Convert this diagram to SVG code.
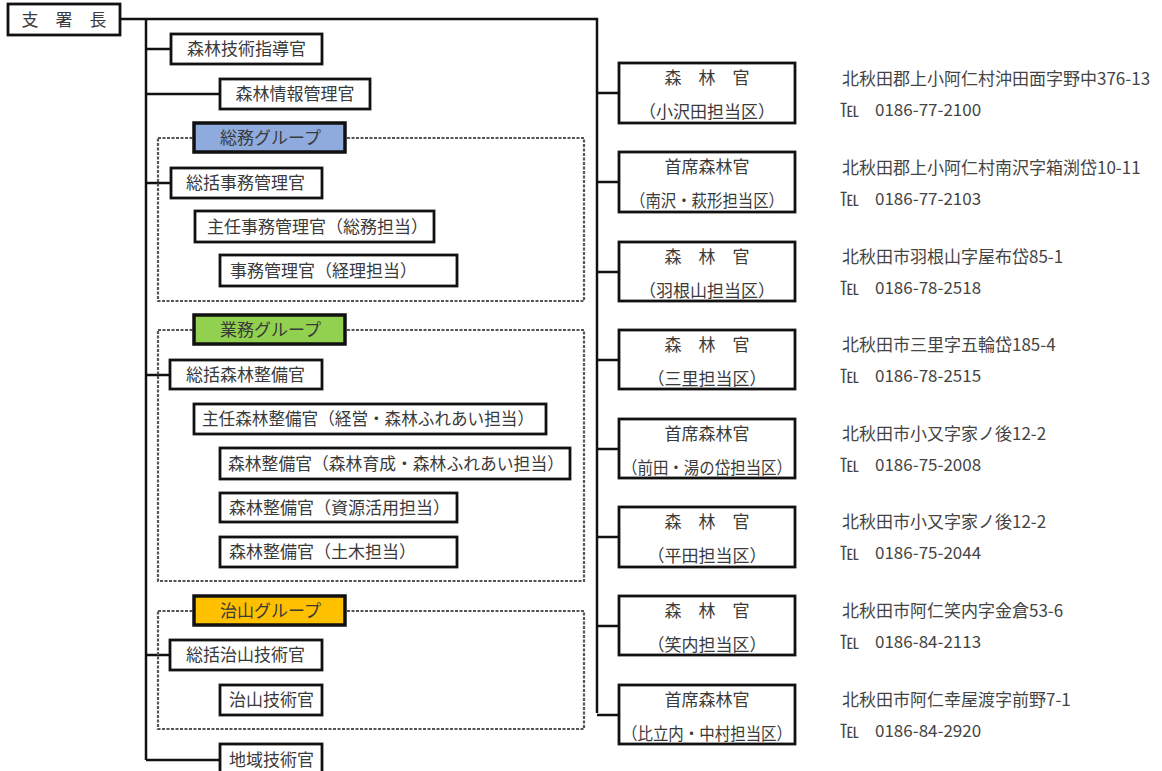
<svg xmlns="http://www.w3.org/2000/svg" width="1162" height="771" viewBox="0 0 1162 771">
<style>
text{font-family:"Noto Sans CJK JP","Noto Sans",sans-serif;fill:#3a3a3a;font-size:17px}
.box{fill:#fff;stroke:#111;stroke-width:2.8}
.grp{fill:none;stroke:#555;stroke-width:2.2;stroke-dasharray:3 1.5}
.lbl{stroke:#111;stroke-width:3.5}
.c{text-anchor:middle}
.ad{font-size:17px;fill:#444}
.tel{font-size:19px;fill:#444}
.con{fill:none;stroke:#111;stroke-width:2.5}
</style>
<rect width="1162" height="771" fill="#fff"/>
<g id="connectors">
<path class="con" d="M120,19 H597 V713"/>
<path class="con" d="M146,19 V760"/>
<path class="con" d="M146,49 H171 M146,94 H220 M146,183 H171 M146,375 H170 M146,655 H170 M146,760 H220"/>
<path class="con" d="M597,93 H619 M597,182 H619 M597,272 H619 M597,360 H619 M597,449 H619 M597,537 H619 M597,626 H619 M597,715 H619"/>
</g>
<g id="n-shishocho"><rect class="box" x="8" y="4" width="112" height="31"/><text class="c" x="64" y="26">支　署　長</text></g>
<g id="n-gijutsu"><rect class="box" x="171" y="34" width="151" height="30"/><text class="c" x="246.5" y="55">森林技術指導官</text></g>
<g id="n-joho"><rect class="box" x="220" y="79" width="150" height="30"/><text class="c" x="295" y="100">森林情報管理官</text></g>

<g id="g-somu">
<rect class="grp" x="158" y="138" width="426" height="163"/>
<rect class="lbl" x="194" y="123" width="151" height="29" fill="#8FAADC"/>
<text x="220" y="143.5">総務グループ</text>
</g>
<g id="n-somu1"><rect class="box" x="171" y="168" width="151" height="30"/><text x="186" y="189">総括事務管理官</text></g>
<g id="n-somu2"><rect class="box" x="195" y="211" width="239" height="31"/><text x="207" y="232.5">主任事務管理官（総務担当）</text></g>
<g id="n-somu3"><rect class="box" x="220" y="255" width="237" height="31"/><text x="230" y="276.5">事務管理官（経理担当）</text></g>

<g id="g-gyomu">
<rect class="grp" x="158" y="330" width="426" height="251"/>
<rect class="lbl" x="194" y="315" width="151" height="29" fill="#92D050"/>
<text x="220" y="335.5">業務グループ</text>
</g>
<g id="n-gyomu1"><rect class="box" x="170" y="360" width="152" height="29"/><text x="186" y="380.5">総括森林整備官</text></g>
<g id="n-gyomu2"><rect class="box" x="194" y="404" width="352" height="30"/><text x="202" y="425" textLength="332" lengthAdjust="spacingAndGlyphs">主任森林整備官（経営・森林ふれあい担当）</text></g>
<g id="n-gyomu3"><rect class="box" x="220" y="448" width="350" height="31"/><text x="228" y="469.5" textLength="336" lengthAdjust="spacingAndGlyphs">森林整備官（森林育成・森林ふれあい担当）</text></g>
<g id="n-gyomu4"><rect class="box" x="220" y="493" width="237" height="29"/><text x="229" y="513.5">森林整備官（資源活用担当）</text></g>
<g id="n-gyomu5"><rect class="box" x="220" y="537" width="237" height="30"/><text x="229" y="558">森林整備官（土木担当）</text></g>

<g id="g-chisan">
<rect class="grp" x="158" y="611" width="426" height="118"/>
<rect class="lbl" x="194" y="596" width="151" height="29" fill="#FFC000"/>
<text x="220" y="616.5">治山グループ</text>
</g>
<g id="n-chisan1"><rect class="box" x="170" y="640" width="152" height="30"/><text x="186" y="661">総括治山技術官</text></g>
<g id="n-chisan2"><rect class="box" x="220" y="685" width="102" height="30"/><text x="229" y="706">治山技術官</text></g>
<g id="n-chiiki"><rect class="box" x="220" y="744" width="102" height="32"/><text x="229" y="766">地域技術官</text></g>

<g id="n-r1"><rect class="box" x="619" y="63" width="176" height="60"/><text class="c" x="707" y="84">森　林　官</text><text class="c" x="707" y="118">（小沢田担当区）</text>
<text class="ad" x="842" y="85">北秋田郡上小阿仁村沖田面字野中376-13</text><text class="tel" x="840" y="117">℡</text><text class="ad" x="875" y="116">0186-77-2100</text></g>
<g id="n-r2"><rect class="box" x="619" y="152" width="176" height="60"/><text class="c" x="707" y="173">首席森林官</text><text class="c" x="707" y="207" textLength="154" lengthAdjust="spacingAndGlyphs">（南沢・萩形担当区）</text>
<text class="ad" x="842" y="174">北秋田郡上小阿仁村南沢字箱渕岱10-11</text><text class="tel" x="840" y="206">℡</text><text class="ad" x="875" y="205">0186-77-2103</text></g>
<g id="n-r3"><rect class="box" x="619" y="242" width="176" height="59"/><text class="c" x="707" y="263">森　林　官</text><text class="c" x="707" y="297">（羽根山担当区）</text>
<text class="ad" x="842" y="263">北秋田市羽根山字屋布岱85-1</text><text class="tel" x="840" y="295">℡</text><text class="ad" x="875" y="294">0186-78-2518</text></g>
<g id="n-r4"><rect class="box" x="619" y="330" width="176" height="59"/><text class="c" x="707" y="351">森　林　官</text><text class="c" x="707" y="385">（三里担当区）</text>
<text class="ad" x="842" y="351">北秋田市三里字五輪岱185-4</text><text class="tel" x="840" y="383">℡</text><text class="ad" x="875" y="382">0186-78-2515</text></g>
<g id="n-r5"><rect class="box" x="619" y="419" width="176" height="59"/><text class="c" x="707" y="440">首席森林官</text><text class="c" x="707" y="474" textLength="170" lengthAdjust="spacingAndGlyphs">（前田・湯の岱担当区）</text>
<text class="ad" x="842" y="440">北秋田市小又字家ノ後12-2</text><text class="tel" x="840" y="472">℡</text><text class="ad" x="875" y="471">0186-75-2008</text></g>
<g id="n-r6"><rect class="box" x="619" y="507" width="176" height="60"/><text class="c" x="707" y="528">森　林　官</text><text class="c" x="707" y="562">（平田担当区）</text>
<text class="ad" x="842" y="528">北秋田市小又字家ノ後12-2</text><text class="tel" x="840" y="560">℡</text><text class="ad" x="875" y="559">0186-75-2044</text></g>
<g id="n-r7"><rect class="box" x="619" y="596" width="176" height="59"/><text class="c" x="707" y="617">森　林　官</text><text class="c" x="707" y="651">（笑内担当区）</text>
<text class="ad" x="842" y="617">北秋田市阿仁笑内字金倉53-6</text><text class="tel" x="840" y="649">℡</text><text class="ad" x="875" y="648">0186-84-2113</text></g>
<g id="n-r8"><rect class="box" x="619" y="685" width="176" height="59"/><text class="c" x="707" y="706">首席森林官</text><text class="c" x="707" y="740" textLength="170" lengthAdjust="spacingAndGlyphs">（比立内・中村担当区）</text>
<text class="ad" x="842" y="706">北秋田市阿仁幸屋渡字前野7-1</text><text class="tel" x="840" y="738">℡</text><text class="ad" x="875" y="737">0186-84-2920</text></g>
</svg>
